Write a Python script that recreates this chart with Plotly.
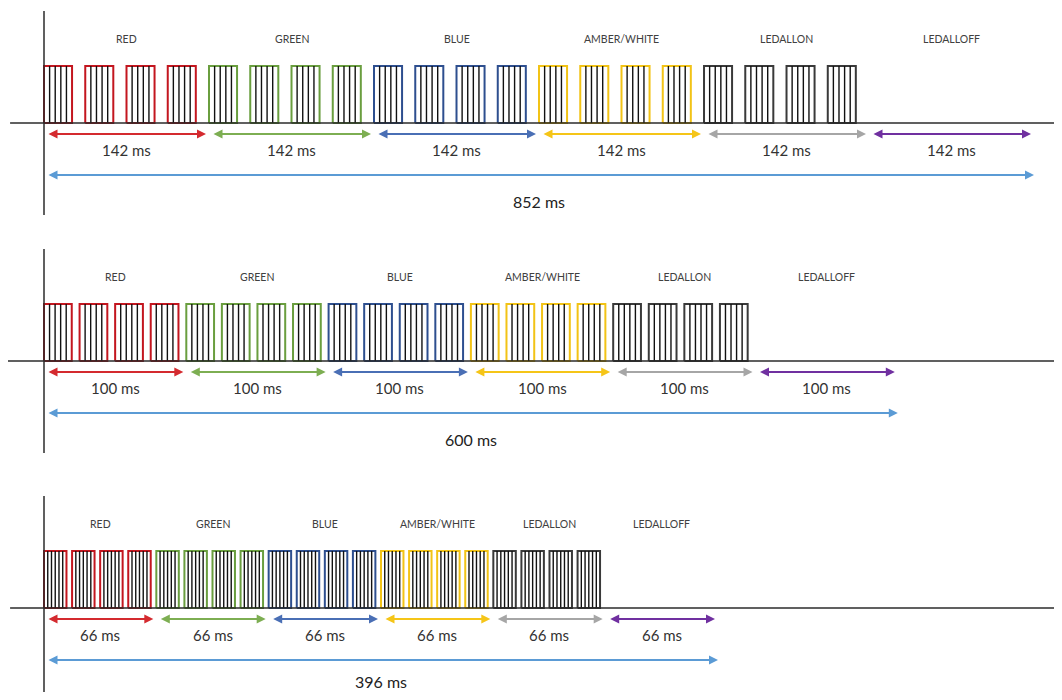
import plotly.graph_objects as go

# ---- data ----
SEGMENTS = ["RED", "GREEN", "BLUE", "AMBER/WHITE", "LEDALLON", "LEDALLOFF"]
PULSES_PER_SEGMENT = [4, 4, 4, 4, 4, 0]
SEGMENT_MS = [142, 100, 66]          # duration of each colour segment, per panel

# ---- styles ----
W, H = 1046, 684                     # page body has an 8px margin
BORDER_COLORS = ["#C3161F", "#6A9E3F", "#2E4F8F", "#F2C316", "#3A3A3A", None]
ARROW_COLORS = ["#D42A2F", "#7DAE52", "#4A6FB5", "#F5C518", "#A6A6A6", "#7030A0"]
TOTAL_COLOR = "#5B9BD5"
FONT = "Lato, 'Open Sans', sans-serif"
BANDS = [(0, 225), (225, 458), (458, 684)]
BASELINES = [115, 353, 600]
X0_PX = 36
PX_PER_MS = [1.162, 1.423, 1.702]
PULSE_FRAC = [0.68, 0.78, 0.80]
STRIPES = [4, 4, 5]
PULSE_H = 57
TOTAL_LABEL_DY = [-78, -78, -73]

fig = go.Figure()
annotations = []
shapes = []

for p, seg in enumerate(SEGMENT_MS):
    ax_id = "" if p == 0 else str(p + 1)
    xr, yr = "x" + ax_id, "y" + ax_id
    ppm = PX_PER_MS[p]
    top, bot = BANDS[p]
    b = BASELINES[p]
    r0 = -X0_PX / ppm
    r1 = (W - X0_PX) / ppm
    fig.layout["xaxis" + ax_id] = dict(range=[r0, r1], domain=[0, 1], visible=False,
                                       fixedrange=True, anchor=yr)
    fig.layout["yaxis" + ax_id] = dict(range=[-(bot - b), b - top],
                                       domain=[1 - bot / H, 1 - top / H], visible=False,
                                       fixedrange=True, anchor=xr)

    # baseline & vertical axis
    shapes.append(dict(type="line", xref=xr + " domain", yref=yr,
                       x0=0.0 if p == 1 else 0.002, x1=1, y0=0, y1=0,
                       line=dict(color="#2b2b2b", width=1.5)))
    shapes.append(dict(type="line", xref=xr, yref=yr, x0=0, x1=0, y0=112, y1=-92,
                       line=dict(color="#2b2b2b", width=1.5)))

    stripe_x, stripe_y = [], []
    for k, name in enumerate(SEGMENTS):
        s0 = k * seg
        pitch = seg / 4
        rx, ry = [], []
        for j in range(PULSES_PER_SEGMENT[k]):
            xs = s0 + j * pitch
            xe = xs + PULSE_FRAC[p] * pitch
            n = STRIPES[p]
            for m in range(n):
                xx = xs + (m + 1) * (xe - xs) / (n + 1)
                stripe_x += [xx, xx, None]
                stripe_y += [0, PULSE_H, None]
            rx += [xs, xs, xe, xe, xs, None]
            ry += [0, PULSE_H, PULSE_H, 0, 0, None]
        if rx:
            fig.add_trace(go.Scatter(x=rx, y=ry, mode="lines", xaxis=xr, yaxis=yr,
                                     line=dict(color=BORDER_COLORS[k], width=2),
                                     hoverinfo="skip", showlegend=False))
        # segment label
        annotations.append(dict(x=s0 + seg / 2, y=84, xref=xr, yref=yr, text=name,
                                showarrow=False, font=dict(size=10.5, color="#404040", family=FONT)))
        # duration label
        annotations.append(dict(x=s0 + seg / 2, y=-27, xref=xr, yref=yr, text=f"{seg} ms",
                                showarrow=False, font=dict(size=15, color="#333333", family=FONT)))
        # double arrow
        gap = 3 / ppm
        annotations.append(dict(x=s0 + seg - gap, y=-11, ax=s0 + gap, ay=-11,
                                xref=xr, yref=yr, axref=xr, ayref=yr, text="",
                                showarrow=True, arrowhead=2, arrowside="end+start",
                                arrowsize=0.9, arrowwidth=2, arrowcolor=ARROW_COLORS[k],
                                standoff=0, startstandoff=0))
    fig.add_trace(go.Scatter(x=stripe_x, y=stripe_y, mode="lines", xaxis=xr, yaxis=yr,
                             line=dict(color="#111111", width=1.4),
                             hoverinfo="skip", showlegend=False))
    total = seg * len(SEGMENTS)
    annotations.append(dict(x=total, y=-52, ax=3 / ppm, ay=-52,
                            xref=xr, yref=yr, axref=xr, ayref=yr, text="",
                            showarrow=True, arrowhead=2, arrowside="end+start",
                            arrowsize=0.9, arrowwidth=2, arrowcolor=TOTAL_COLOR,
                            standoff=0, startstandoff=0))
    annotations.append(dict(x=total / 2, y=TOTAL_LABEL_DY[p], xref=xr, yref=yr, text=f"{total} ms",
                            showarrow=False, font=dict(size=16, color="#222222", family=FONT)))

fig.update_layout(width=W, height=H, margin=dict(l=0, r=0, t=0, b=0),
                  paper_bgcolor="white", plot_bgcolor="white",
                  annotations=annotations, shapes=shapes, showlegend=False)
fig.write_html("out.html")
